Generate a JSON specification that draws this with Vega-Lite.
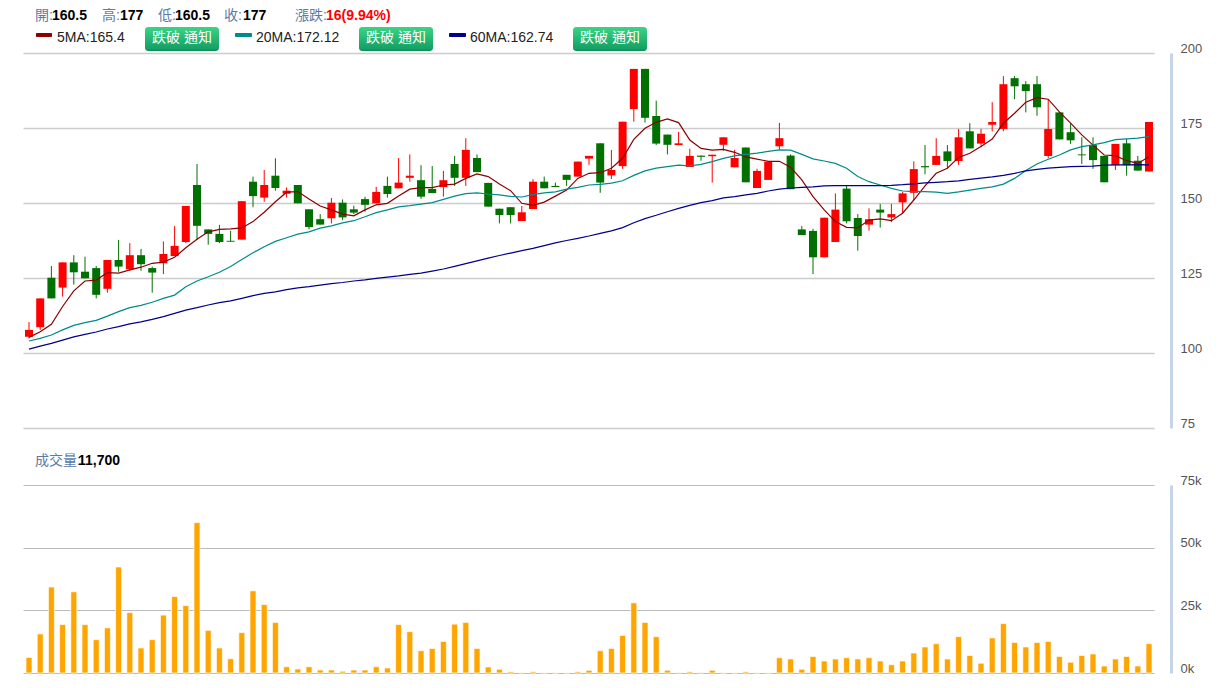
{"$schema":"https://vega.github.io/schema/vega-lite/v6.json","padding":{"left":23,"top":0,"right":0,"bottom":0},"background":"white","bounds":"flush","spacing":0,
"config":{"view":{"stroke":null},"font":"Liberation Sans, Noto Sans CJK TC","text":{"font":"Liberation Sans, Noto Sans CJK TC","fontSize":14,"align":"left","baseline":"middle"}},
"datasets":{"k":[
{"i":0,"o":105.4,"h":110.3,"l":104.9,"c":107.7,"v":6200,"m5":105.2,"m20":104,"m60":101.3,"d":"up"},
{"i":1,"o":108.6,"h":118.2,"l":107.7,"c":118.2,"v":15600,"m5":107.1,"m20":104.9,"m60":102.3,"d":"up"},
{"i":2,"o":125.1,"h":129,"l":118.2,"c":118.2,"v":34300,"m5":109.6,"m20":106,"m60":103.2,"d":"down"},
{"i":3,"o":121.8,"h":130.2,"l":118.8,"c":130.2,"v":19300,"m5":115.5,"m20":107.7,"m60":104.3,"d":"up"},
{"i":4,"o":130.2,"h":132.6,"l":122.8,"c":126.9,"v":32400,"m5":120.7,"m20":109.2,"m60":105.4,"d":"down"},
{"i":5,"o":127.1,"h":132.1,"l":124.9,"c":124.9,"v":19300,"m5":124,"m20":110.1,"m60":106.2,"d":"down"},
{"i":6,"o":128.3,"h":129,"l":118.2,"c":119.4,"v":13300,"m5":124.3,"m20":110.9,"m60":107,"d":"down"},
{"i":7,"o":121.4,"h":131,"l":120.1,"c":131,"v":18000,"m5":126.8,"m20":112.3,"m60":108,"d":"up"},
{"i":8,"o":131,"h":137.7,"l":127.1,"c":128.8,"v":42300,"m5":126.6,"m20":113.8,"m60":108.8,"d":"down"},
{"i":9,"o":127.9,"h":136.6,"l":127.4,"c":132.6,"v":24100,"m5":127.7,"m20":115.1,"m60":109.7,"d":"up"},
{"i":10,"o":132.6,"h":134.7,"l":127.4,"c":129.6,"v":10000,"m5":128.6,"m20":115.9,"m60":110.4,"d":"down"},
{"i":11,"o":128.3,"h":128.8,"l":120.1,"c":126.8,"v":13300,"m5":129.9,"m20":116.9,"m60":111.2,"d":"down"},
{"i":12,"o":129.9,"h":137.2,"l":126.3,"c":133,"v":23100,"m5":130.3,"m20":118.2,"m60":112.1,"d":"up"},
{"i":13,"o":132.3,"h":142.3,"l":132.3,"c":135.7,"v":30500,"m5":131.9,"m20":119.3,"m60":113.2,"d":"up"},
{"i":14,"o":137,"h":149,"l":136.6,"c":149,"v":26900,"m5":135.1,"m20":122.1,"m60":114.3,"d":"up"},
{"i":15,"o":156,"h":163,"l":137.7,"c":142.4,"v":60000,"m5":137.9,"m20":124,"m60":115.1,"d":"down"},
{"i":16,"o":141.2,"h":141.2,"l":136.1,"c":139.7,"v":17000,"m5":140.4,"m20":125.4,"m60":116,"d":"down"},
{"i":17,"o":139.7,"h":142.7,"l":136.6,"c":137,"v":10000,"m5":141.2,"m20":126.9,"m60":116.8,"d":"down"},
{"i":18,"o":137.4,"h":140.7,"l":137.1,"c":137.1,"v":5700,"m5":141.4,"m20":128.8,"m60":117.4,"d":"down"},
{"i":19,"o":137.8,"h":150.6,"l":137.8,"c":150.6,"v":16100,"m5":141.7,"m20":131.2,"m60":118.2,"d":"up"},
{"i":20,"o":157.1,"h":158.8,"l":148.6,"c":152.3,"v":32800,"m5":143.8,"m20":133.4,"m60":119.1,"d":"down"},
{"i":21,"o":151.8,"h":161,"l":150.4,"c":156,"v":27300,"m5":146.9,"m20":135.4,"m60":119.9,"d":"up"},
{"i":22,"o":159.1,"h":164.9,"l":154.1,"c":155,"v":20200,"m5":150.4,"m20":137.2,"m60":120.4,"d":"down"},
{"i":23,"o":153.1,"h":155.2,"l":151.8,"c":154.1,"v":2500,"m5":153.6,"m20":138.4,"m60":121.1,"d":"up"},
{"i":24,"o":156,"h":156,"l":149.9,"c":149.9,"v":1600,"m5":153.8,"m20":139.6,"m60":121.7,"d":"down"},
{"i":25,"o":147.9,"h":147.9,"l":141.2,"c":142,"v":2500,"m5":151.3,"m20":140.4,"m60":122.1,"d":"down"},
{"i":26,"o":144.6,"h":146.3,"l":142.8,"c":142.8,"v":1200,"m5":149,"m20":141.6,"m60":122.6,"d":"down"},
{"i":27,"o":144.9,"h":151.7,"l":143.2,"c":150.1,"v":1200,"m5":147.7,"m20":142.4,"m60":123.1,"d":"up"},
{"i":28,"o":150.1,"h":151.2,"l":144.3,"c":145.2,"v":700,"m5":146.3,"m20":143.4,"m60":123.5,"d":"down"},
{"i":29,"o":147.9,"h":149.1,"l":146.3,"c":146.8,"v":1200,"m5":145.7,"m20":144.1,"m60":124,"d":"down"},
{"i":30,"o":151.3,"h":152.1,"l":147.1,"c":149.4,"v":1200,"m5":147.7,"m20":145.4,"m60":124.4,"d":"down"},
{"i":31,"o":149.9,"h":155.4,"l":149.9,"c":153.7,"v":2500,"m5":149.4,"m20":146.8,"m60":124.9,"d":"up"},
{"i":32,"o":155.7,"h":158.8,"l":151.8,"c":153,"v":2000,"m5":149.9,"m20":147.7,"m60":125.3,"d":"down"},
{"i":33,"o":154.9,"h":165,"l":154.9,"c":156.8,"v":19300,"m5":152.3,"m20":148.7,"m60":125.7,"d":"up"},
{"i":34,"o":158.4,"h":166.2,"l":157.1,"c":159.1,"v":16500,"m5":154.6,"m20":149.1,"m60":126.2,"d":"up"},
{"i":35,"o":157.6,"h":162.6,"l":151.4,"c":152.1,"v":8900,"m5":155.1,"m20":149.6,"m60":126.6,"d":"down"},
{"i":36,"o":154.7,"h":162.3,"l":153.3,"c":153.3,"v":9800,"m5":155.1,"m20":150.1,"m60":127.3,"d":"down"},
{"i":37,"o":155.3,"h":160.7,"l":152.1,"c":157.6,"v":12600,"m5":156,"m20":151.2,"m60":128,"d":"up"},
{"i":38,"o":163,"h":165.7,"l":155.7,"c":158.4,"v":19500,"m5":156.3,"m20":152.3,"m60":128.9,"d":"down"},
{"i":39,"o":158.4,"h":171.6,"l":155.7,"c":167.7,"v":20200,"m5":158.2,"m20":153.1,"m60":129.8,"d":"up"},
{"i":40,"o":165,"h":166.2,"l":160.3,"c":160.3,"v":9800,"m5":159.7,"m20":153.4,"m60":130.7,"d":"down"},
{"i":41,"o":156.7,"h":156.7,"l":148.8,"c":148.8,"v":2400,"m5":158.8,"m20":153,"m60":131.6,"d":"down"},
{"i":42,"o":148.1,"h":148.1,"l":143.2,"c":146,"v":1500,"m5":156.3,"m20":152.7,"m60":132.5,"d":"down"},
{"i":43,"o":148.6,"h":148.6,"l":143.2,"c":146,"v":500,"m5":154.1,"m20":152.2,"m60":133.3,"d":"down"},
{"i":44,"o":144,"h":149,"l":144,"c":146.9,"v":200,"m5":149.9,"m20":152,"m60":134.1,"d":"up"},
{"i":45,"o":148,"h":157.9,"l":148,"c":157.1,"v":500,"m5":149.2,"m20":152.8,"m60":134.9,"d":"up"},
{"i":46,"o":157.1,"h":158.8,"l":154.9,"c":154.9,"v":100,"m5":150.3,"m20":153.4,"m60":135.8,"d":"down"},
{"i":47,"o":155.7,"h":156.8,"l":155.3,"c":155.3,"v":100,"m5":152.3,"m20":153.7,"m60":136.7,"d":"down"},
{"i":48,"o":159.4,"h":159.4,"l":155.7,"c":157.7,"v":100,"m5":154.3,"m20":154.6,"m60":137.5,"d":"down"},
{"i":49,"o":158.8,"h":163.8,"l":158.8,"c":163.8,"v":500,"m5":158.2,"m20":155.2,"m60":138.2,"d":"up"},
{"i":50,"o":164.8,"h":165.7,"l":162.7,"c":165.7,"v":1100,"m5":159.9,"m20":156,"m60":139,"d":"up"},
{"i":51,"o":169.9,"h":169.9,"l":153.4,"c":156.8,"v":8900,"m5":160.1,"m20":156.2,"m60":139.9,"d":"down"},
{"i":52,"o":159.2,"h":167.7,"l":158,"c":161,"v":9800,"m5":161.6,"m20":156.6,"m60":140.7,"d":"up"},
{"i":53,"o":162.3,"h":177.1,"l":161.4,"c":177.1,"v":15000,"m5":164.9,"m20":157.4,"m60":141.8,"d":"up"},
{"i":54,"o":181.3,"h":194.7,"l":177.1,"c":194.7,"v":28000,"m5":171.2,"m20":159.2,"m60":143.4,"d":"up"},
{"i":55,"o":194.7,"h":194.7,"l":176.8,"c":178.4,"v":20200,"m5":174.9,"m20":160.7,"m60":144.8,"d":"down"},
{"i":56,"o":179,"h":184.1,"l":169.3,"c":169.8,"v":14500,"m5":176.9,"m20":161.6,"m60":145.9,"d":"down"},
{"i":57,"o":172.8,"h":172.8,"l":166.2,"c":169.4,"v":1100,"m5":178,"m20":162.1,"m60":147.1,"d":"down"},
{"i":58,"o":169.3,"h":173.7,"l":169.3,"c":169.9,"v":200,"m5":176.8,"m20":162.6,"m60":148.2,"d":"up"},
{"i":59,"o":162,"h":168.1,"l":162,"c":165.7,"v":500,"m5":171,"m20":162.4,"m60":149.2,"d":"up"},
{"i":60,"o":165.8,"h":165.8,"l":164.1,"c":165.4,"v":200,"m5":168.2,"m20":162.9,"m60":150.1,"d":"down"},
{"i":61,"o":165.6,"h":166.1,"l":156.8,"c":166.1,"v":1100,"m5":167.6,"m20":163.8,"m60":150.8,"d":"up"},
{"i":62,"o":169.4,"h":171.9,"l":167.4,"c":171.9,"v":100,"m5":167.9,"m20":164.9,"m60":151.7,"d":"up"},
{"i":63,"o":161.9,"h":167.7,"l":161.9,"c":165,"v":100,"m5":166.9,"m20":165.7,"m60":152.1,"d":"up"},
{"i":64,"o":168.5,"h":168.5,"l":156.9,"c":156.9,"v":500,"m5":165.4,"m20":166.2,"m60":152.7,"d":"down"},
{"i":65,"o":155,"h":161.4,"l":155,"c":160.7,"v":100,"m5":164.6,"m20":166.6,"m60":153.2,"d":"up"},
{"i":66,"o":157.7,"h":163.7,"l":157.7,"c":163.7,"v":100,"m5":163.9,"m20":167.2,"m60":154,"d":"up"},
{"i":67,"o":168.9,"h":176.7,"l":167.9,"c":171.6,"v":6100,"m5":163.9,"m20":167.7,"m60":154.6,"d":"up"},
{"i":68,"o":165.8,"h":166.2,"l":154.6,"c":154.6,"v":5600,"m5":161.9,"m20":167.6,"m60":155,"d":"down"},
{"i":69,"o":141.2,"h":142.3,"l":139.3,"c":139.3,"v":1500,"m5":157.7,"m20":166.2,"m60":155.2,"d":"down"},
{"i":70,"o":140.7,"h":141.4,"l":126.3,"c":131.9,"v":6600,"m5":152.1,"m20":164.7,"m60":155.4,"d":"down"},
{"i":71,"o":131.9,"h":145.1,"l":131.9,"c":145.1,"v":4800,"m5":147.7,"m20":164,"m60":155.7,"d":"up"},
{"i":72,"o":137,"h":153.2,"l":137,"c":147.8,"v":5600,"m5":143.8,"m20":163.2,"m60":155.8,"d":"up"},
{"i":73,"o":154.8,"h":155.7,"l":143.2,"c":143.9,"v":6100,"m5":141.9,"m20":161.6,"m60":155.8,"d":"down"},
{"i":74,"o":145,"h":146.3,"l":134.1,"c":139,"v":5600,"m5":141.7,"m20":158.8,"m60":155.8,"d":"down"},
{"i":75,"o":142.8,"h":148.2,"l":140.8,"c":144.6,"v":6100,"m5":144.3,"m20":157.1,"m60":155.8,"d":"up"},
{"i":76,"o":147.8,"h":149.7,"l":141.8,"c":146.8,"v":4800,"m5":144.7,"m20":156,"m60":155.8,"d":"down"},
{"i":77,"o":145.2,"h":149.7,"l":143.6,"c":146.3,"v":3300,"m5":144.1,"m20":154.9,"m60":155.9,"d":"up"},
{"i":78,"o":150.2,"h":153.7,"l":146.6,"c":153.2,"v":4800,"m5":146.6,"m20":154,"m60":156.1,"d":"up"},
{"i":79,"o":153.4,"h":163.9,"l":151,"c":161.3,"v":8000,"m5":151,"m20":153.8,"m60":156.4,"d":"up"},
{"i":80,"o":162.3,"h":169.3,"l":159.6,"c":161.9,"v":10400,"m5":155.7,"m20":153.8,"m60":156.7,"d":"down"},
{"i":81,"o":162.7,"h":171.6,"l":162.7,"c":165.7,"v":11700,"m5":159.9,"m20":153.6,"m60":156.9,"d":"up"},
{"i":82,"o":167.2,"h":169.3,"l":161.6,"c":164,"v":5600,"m5":161.6,"m20":153.2,"m60":157.1,"d":"down"},
{"i":83,"o":164,"h":174.7,"l":162.7,"c":171.9,"v":14500,"m5":165.2,"m20":153.7,"m60":157.4,"d":"up"},
{"i":84,"o":173.9,"h":176.6,"l":168.2,"c":168.2,"v":7000,"m5":166.6,"m20":154.3,"m60":157.9,"d":"down"},
{"i":85,"o":169.8,"h":174.7,"l":168.6,"c":173.1,"v":3900,"m5":168.8,"m20":154.9,"m60":158.3,"d":"up"},
{"i":86,"o":176.1,"h":183.6,"l":173.9,"c":177,"v":14000,"m5":171.3,"m20":155.4,"m60":158.7,"d":"up"},
{"i":87,"o":174.7,"h":192.3,"l":173.9,"c":189.6,"v":19700,"m5":176.6,"m20":156.3,"m60":159.2,"d":"up"},
{"i":88,"o":191.6,"h":192.3,"l":184.6,"c":188.9,"v":12200,"m5":179.9,"m20":158.2,"m60":159.9,"d":"down"},
{"i":89,"o":189.6,"h":190.6,"l":180.2,"c":187.3,"v":10400,"m5":183.6,"m20":160.8,"m60":160.7,"d":"down"},
{"i":90,"o":189.6,"h":192.3,"l":179.1,"c":181.9,"v":12200,"m5":185.1,"m20":163,"m60":161.2,"d":"down"},
{"i":91,"o":165.7,"h":184.6,"l":164.9,"c":174.7,"v":12600,"m5":184.6,"m20":164.6,"m60":161.6,"d":"up"},
{"i":92,"o":180.2,"h":180.2,"l":171.2,"c":171.2,"v":6600,"m5":180.4,"m20":166,"m60":161.9,"d":"down"},
{"i":93,"o":173.6,"h":176.6,"l":169.7,"c":170.9,"v":4300,"m5":176.6,"m20":167.7,"m60":162.1,"d":"down"},
{"i":94,"o":166.2,"h":171.9,"l":163,"c":165.9,"v":7000,"m5":172.7,"m20":168.8,"m60":162.2,"d":"down"},
{"i":95,"o":169.3,"h":171.9,"l":161.4,"c":164.3,"v":7600,"m5":169.3,"m20":169.4,"m60":162.3,"d":"down"},
{"i":96,"o":165.7,"h":165.7,"l":156.9,"c":156.9,"v":2800,"m5":166,"m20":170.1,"m60":162.6,"d":"down"},
{"i":97,"o":162.6,"h":169.7,"l":161,"c":169.7,"v":5600,"m5":165.8,"m20":171.1,"m60":162.7,"d":"up"},
{"i":98,"o":169.9,"h":171.4,"l":159.1,"c":162.6,"v":6600,"m5":164.1,"m20":171.4,"m60":162.7,"d":"down"},
{"i":99,"o":164.1,"h":165.7,"l":160.8,"c":160.8,"v":2800,"m5":163.2,"m20":171.6,"m60":162.8,"d":"down"},
{"i":100,"o":160.5,"h":177,"l":160.5,"c":177,"v":11700,"m5":165.4,"m20":172.12,"m60":162.74,"d":"up"}
]},
"vconcat":[
{"width":1131,"height":53,"layer":[
{"data":{"values":[{"t":"開:"}]},"mark":{"type":"text","color":"#5b7aa8"},"encoding":{"text":{"field":"t"},"x":{"datum":0.536,"type":"quantitative","axis":null,"scale":{"domain":[-0.536,100.446],"nice":false,"zero":false,"padding":0}},"y":{"datum":0.604,"type":"quantitative","axis":null,"scale":{"domain":[2,0],"nice":false,"zero":false}}}},
{"data":{"values":[{"t":"160.5"}]},"mark":{"type":"text","fontWeight":"bold","color":"#000000"},"encoding":{"text":{"field":"t"},"x":{"datum":2.054,"type":"quantitative"},"y":{"datum":0.604,"type":"quantitative"}}},
{"data":{"values":[{"t":"高:"}]},"mark":{"type":"text","color":"#5b7aa8"},"encoding":{"text":{"field":"t"},"x":{"datum":6.518,"type":"quantitative"},"y":{"datum":0.604,"type":"quantitative"}}},
{"data":{"values":[{"t":"177"}]},"mark":{"type":"text","fontWeight":"bold","color":"#000000"},"encoding":{"text":{"field":"t"},"x":{"datum":8.125,"type":"quantitative"},"y":{"datum":0.604,"type":"quantitative"}}},
{"data":{"values":[{"t":"低:"}]},"mark":{"type":"text","color":"#5b7aa8"},"encoding":{"text":{"field":"t"},"x":{"datum":11.518,"type":"quantitative"},"y":{"datum":0.604,"type":"quantitative"}}},
{"data":{"values":[{"t":"160.5"}]},"mark":{"type":"text","fontWeight":"bold","color":"#000000"},"encoding":{"text":{"field":"t"},"x":{"datum":13.036,"type":"quantitative"},"y":{"datum":0.604,"type":"quantitative"}}},
{"data":{"values":[{"t":"收:"}]},"mark":{"type":"text","color":"#5b7aa8"},"encoding":{"text":{"field":"t"},"x":{"datum":17.411,"type":"quantitative"},"y":{"datum":0.604,"type":"quantitative"}}},
{"data":{"values":[{"t":"177"}]},"mark":{"type":"text","fontWeight":"bold","color":"#000000"},"encoding":{"text":{"field":"t"},"x":{"datum":19.107,"type":"quantitative"},"y":{"datum":0.604,"type":"quantitative"}}},
{"data":{"values":[{"t":"漲跌:"}]},"mark":{"type":"text","color":"#5b7aa8"},"encoding":{"text":{"field":"t"},"x":{"datum":23.75,"type":"quantitative"},"y":{"datum":0.604,"type":"quantitative"}}},
{"data":{"values":[{"t":"16(9.94%)"}]},"mark":{"type":"text","fontWeight":"bold","color":"#ff0000"},"encoding":{"text":{"field":"t"},"x":{"datum":26.518,"type":"quantitative"},"y":{"datum":0.604,"type":"quantitative"}}},
{"data":{"values":[{"s":"5MA"}]},"mark":{"type":"rect","color":"#8b0000","cornerRadius":1},"encoding":{"x":{"datum":0.625,"type":"quantitative"},"x2":{"datum":2.054},"y":{"datum":1.245,"type":"quantitative"},"y2":{"datum":1.396}}},
{"data":{"values":[{"s":"20MA"}]},"mark":{"type":"rect","color":"#008b8b","cornerRadius":1},"encoding":{"x":{"datum":18.393,"type":"quantitative"},"x2":{"datum":19.911},"y":{"datum":1.245,"type":"quantitative"},"y2":{"datum":1.396}}},
{"data":{"values":[{"s":"60MA"}]},"mark":{"type":"rect","color":"#00008b","cornerRadius":1},"encoding":{"x":{"datum":37.5,"type":"quantitative"},"x2":{"datum":39.018},"y":{"datum":1.245,"type":"quantitative"},"y2":{"datum":1.396}}},
{"data":{"values":[{"t":"5MA:165.4"}]},"mark":{"type":"text","color":"#222222"},"encoding":{"text":{"field":"t"},"x":{"datum":2.5,"type":"quantitative"},"y":{"datum":1.434,"type":"quantitative"}}},
{"data":{"values":[{"t":"20MA:172.12"}]},"mark":{"type":"text","color":"#222222"},"encoding":{"text":{"field":"t"},"x":{"datum":20.268,"type":"quantitative"},"y":{"datum":1.434,"type":"quantitative"}}},
{"data":{"values":[{"t":"60MA:162.74"}]},"mark":{"type":"text","color":"#222222"},"encoding":{"text":{"field":"t"},"x":{"datum":39.375,"type":"quantitative"},"y":{"datum":1.434,"type":"quantitative"}}},
{"data":{"values":[{"s":"b1"}]},"mark":{"type":"rect","cornerRadius":3,"color":{"gradient":"linear","x1":0,"y1":0,"x2":0,"y2":1,"stops":[{"offset":0,"color":"#3ad583"},{"offset":0.9,"color":"#14a066"},{"offset":1,"color":"#0f8a58"}]}},"encoding":{"x":{"datum":10.357,"type":"quantitative"},"x2":{"datum":16.964},"y":{"datum":1.019,"type":"quantitative"},"y2":{"datum":1.925}}},
{"data":{"values":[{"s":"b2"}]},"mark":{"type":"rect","cornerRadius":3,"color":{"gradient":"linear","x1":0,"y1":0,"x2":0,"y2":1,"stops":[{"offset":0,"color":"#3ad583"},{"offset":0.9,"color":"#14a066"},{"offset":1,"color":"#0f8a58"}]}},"encoding":{"x":{"datum":29.464,"type":"quantitative"},"x2":{"datum":36.071},"y":{"datum":1.019,"type":"quantitative"},"y2":{"datum":1.925}}},
{"data":{"values":[{"s":"b3"}]},"mark":{"type":"rect","cornerRadius":3,"color":{"gradient":"linear","x1":0,"y1":0,"x2":0,"y2":1,"stops":[{"offset":0,"color":"#3ad583"},{"offset":0.9,"color":"#14a066"},{"offset":1,"color":"#0f8a58"}]}},"encoding":{"x":{"datum":48.571,"type":"quantitative"},"x2":{"datum":55.179},"y":{"datum":1.019,"type":"quantitative"},"y2":{"datum":1.925}}},
{"data":{"values":[{"t":"跌破 通知"}]},"mark":{"type":"text","color":"#ffffff"},"encoding":{"text":{"field":"t"},"x":{"datum":10.982,"type":"quantitative"},"y":{"datum":1.434,"type":"quantitative"}}},
{"data":{"values":[{"t":"跌破 通知"}]},"mark":{"type":"text","color":"#ffffff"},"encoding":{"text":{"field":"t"},"x":{"datum":30.089,"type":"quantitative"},"y":{"datum":1.434,"type":"quantitative"}}},
{"data":{"values":[{"t":"跌破 通知"}]},"mark":{"type":"text","color":"#ffffff"},"encoding":{"text":{"field":"t"},"x":{"datum":49.196,"type":"quantitative"},"y":{"datum":1.434,"type":"quantitative"}}}
]},
{"width":1131,"height":375,"data":{"name":"k"},
"encoding":{"x":{"field":"i","type":"quantitative","axis":null,"scale":{"domain":[-0.536,100.446],"nice":false,"zero":false,"padding":0}}},
"layer":[
{"mark":{"type":"rule","strokeWidth":1},"encoding":{"y":{"field":"l","type":"quantitative","scale":{"domain":[75,200],"nice":false,"zero":false},"axis":{"orient":"right","title":null,"values":[75,100,125,150,175,200],"offset":17,"grid":true,"gridColor":"#cccccc","gridWidth":1.5,"domainColor":"#c6d4e8","domainWidth":3,"ticks":false,"labelColor":"#555555","labelFontSize":13,"labelFont":"Liberation Sans","labelPadding":9,"labelOffset":-5}},"y2":{"field":"h"},"color":{"field":"d","type":"nominal","legend":null,"scale":{"domain":["up","down"],"range":["#ff0000","#007000"]}}}},
{"mark":{"type":"bar","size":8},"encoding":{"y":{"field":"o","type":"quantitative"},"y2":{"field":"c"},"color":{"field":"d","type":"nominal","legend":null}}},
{"mark":{"type":"line","color":"#8b0000","strokeWidth":1.2},"encoding":{"y":{"field":"m5","type":"quantitative"}}},
{"mark":{"type":"line","color":"#008b8b","strokeWidth":1.2},"encoding":{"y":{"field":"m20","type":"quantitative"}}},
{"mark":{"type":"line","color":"#00008b","strokeWidth":1.2},"encoding":{"y":{"field":"m60","type":"quantitative"}}}
]},
{"width":1131,"height":57,"layer":[
{"data":{"values":[{"t":"成交量:"}]},"mark":{"type":"text","color":"#5b7aa8"},"encoding":{"text":{"field":"t"},"x":{"datum":0.536,"type":"quantitative","axis":null,"scale":{"domain":[-0.536,100.446],"nice":false,"zero":false,"padding":0}},"y":{"datum":1.158,"type":"quantitative","axis":null,"scale":{"domain":[2,0],"nice":false,"zero":false}}}},
{"data":{"values":[{"t":"11,700"}]},"mark":{"type":"text","fontWeight":"bold","color":"#000000"},"encoding":{"text":{"field":"t"},"x":{"datum":4.375,"type":"quantitative"},"y":{"datum":1.158,"type":"quantitative"}}}
]},
{"width":1131,"height":188,"data":{"name":"k"},
"encoding":{"x":{"field":"i","type":"quantitative","axis":null,"scale":{"domain":[-0.536,100.446],"nice":false,"zero":false,"padding":0}}},
"layer":[
{"mark":{"type":"bar","size":6,"color":"#ffa500","stroke":"#ffffff","strokeWidth":1,"strokeOpacity":0.7},"encoding":{"y":{"field":"v","type":"quantitative","scale":{"domain":[0,75000],"nice":false},"axis":{"orient":"right","title":null,"values":[0,25000,50000,75000],"labelExpr":"datum.value/1000+'k'","offset":17,"grid":true,"gridColor":"#bbbbbb","gridWidth":1.2,"domainColor":"#c6d4e8","domainWidth":3,"ticks":false,"labelColor":"#555555","labelFontSize":13,"labelFont":"Liberation Sans","labelPadding":9,"labelOffset":-5}}}}
]}
]}
